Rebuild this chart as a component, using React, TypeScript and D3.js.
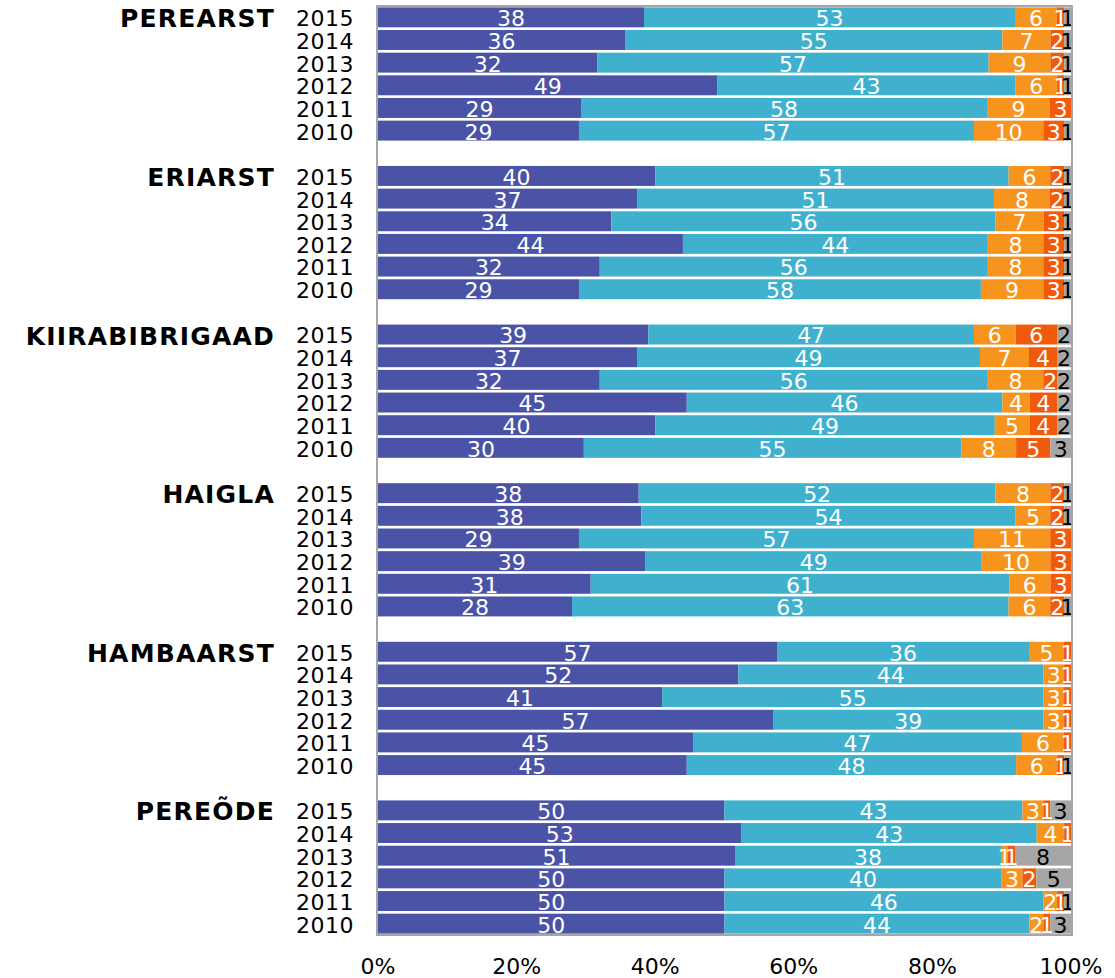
import * as d3 from 'd3';
import { useEffect } from "react";

const groups = ['PEREARST', 'ERIARST', 'KIIRABIBRIGAAD', 'HAIGLA', 'HAMBAARST', 'PEREÕDE'];
const years = ['2015', '2014', '2013', '2012', '2011', '2010'];
const seriesKeys = ['s1', 's2', 's3', 's4', 's5'];
const tickLabels = ['0%', '20%', '40%', '60%', '80%', '100%'];

// values per group, rows in order of years (2015 .. 2010), columns = seriesKeys
const perearst = [
    [38, 53, 6, 1, 1],
    [36, 55, 7, 2, 1],
    [32, 57, 9, 2, 1],
    [49, 43, 6, 1, 1],
    [29, 58, 9, 3, 0],
    [29, 57, 10, 3, 1],
];
const eriarst = [
    [40, 51, 6, 2, 1],
    [37, 51, 8, 2, 1],
    [34, 56, 7, 3, 1],
    [44, 44, 8, 3, 1],
    [32, 56, 8, 3, 1],
    [29, 58, 9, 3, 1],
];
const kiirabi = [
    [39, 47, 6, 6, 2],
    [37, 49, 7, 4, 2],
    [32, 56, 8, 2, 2],
    [45, 46, 4, 4, 2],
    [40, 49, 5, 4, 2],
    [30, 55, 8, 5, 3],
];
const haigla = [
    [38, 52, 8, 2, 1],
    [38, 54, 5, 2, 1],
    [29, 57, 11, 3, 0],
    [39, 49, 10, 3, 0],
    [31, 61, 6, 3, 0],
    [28, 63, 6, 2, 1],
];
const hambaarst = [
    [57, 36, 5, 1, 0],
    [52, 44, 3, 1, 0],
    [41, 55, 3, 1, 0],
    [57, 39, 3, 1, 0],
    [45, 47, 6, 1, 0],
    [45, 48, 6, 1, 1],
];
const pereode = [
    [50, 43, 3, 1, 3],
    [53, 43, 4, 1, 0],
    [51, 38, 1, 1, 8],
    [50, 40, 3, 2, 5],
    [50, 46, 2, 1, 1],
    [50, 44, 2, 1, 3],
];
const groupValues = [perearst, eriarst, kiirabi, haigla, hambaarst, pereode];

const colors = ['#4a53a5', '#3fb1cf', '#f7941e', '#f15a0a', '#a6a6a6'];
const labelColors = ['#ffffff', '#ffffff', '#ffffff', '#ffffff', '#000000'];

const WIDTH = 1115;
const HEIGHT = 978;
const MARGIN = { top: 6, right: 44, bottom: 43, left: 378 };
const FONT = 'Verdana, "DejaVu Sans", sans-serif';

type Row = { slot: number, group: number, year: string, [k: string]: number | string };

export default function App() {
    useEffect(() => {
        document.body.style.margin = '0';
    }, []);

    const rows: Row[] = [];
    groupValues.forEach((vals, g) => {
        vals.forEach((v, i) => {
            const r: Row = { slot: g * 7 + i, group: g, year: years[i] };
            seriesKeys.forEach((k, j) => { r[k] = v[j]; });
            rows.push(r);
        });
    });

    const slotCount = groups.length * 7 - 1;
    const y = d3.scaleBand<number>()
        .domain(d3.range(slotCount))
        .range([MARGIN.top, HEIGHT - MARGIN.bottom])
        .paddingInner(0.12)
        .paddingOuter(0.06);
    const x = d3.scaleLinear().domain([0, 1]).range([MARGIN.left, WIDTH - MARGIN.right]);

    const stack = d3.stack<Row>()
        .keys(seriesKeys)
        .value((d, k) => d[k] as number)
        .offset(d3.stackOffsetExpand);
    const layers = stack(rows);

    const plotBottom = HEIGHT - MARGIN.bottom;
    const mid = (slot: number) => (y(slot) ?? 0) + y.bandwidth() / 2;

    return (
        <svg width={WIDTH} height={HEIGHT} style={{ display: 'block', fontFamily: FONT }}>
            {layers.map((layer, li) => (
                <g key={li}>
                    {layer.map((d, ri) => (
                        <rect key={ri}
                            x={x(d[0])}
                            y={y(d.data.slot)}
                            width={Math.max(0, x(d[1]) - x(d[0]))}
                            height={y.bandwidth()}
                            fill={colors[li]} />
                    ))}
                </g>
            ))}
            {layers.map((layer, li) => (
                <g key={'l' + li}>
                    {layer.filter(d => (d.data[seriesKeys[li]] as number) > 0).map((d, ri) => (
                        <text key={ri}
                            x={(x(d[0]) + x(d[1])) / 2}
                            y={mid(d.data.slot) + 1}
                            dy="0.36em"
                            textAnchor="middle"
                            fontSize={22}
                            fill={labelColors[li]}>
                            {d.data[seriesKeys[li]]}
                        </text>
                    ))}
                </g>
            ))}
            <rect x={x(0) - 1} y={MARGIN.top} width={x(1) - x(0) + 2} height={plotBottom - MARGIN.top}
                fill="none" stroke="#a6a6a6" strokeWidth={2} />
            {rows.map((r, i) => (
                <text key={'y' + i} x={354} y={mid(r.slot) + 1} dy="0.36em"
                    textAnchor="end" fontSize={22} letterSpacing={0.5} fill="#000">{r.year}</text>
            ))}
            {groups.map((g, i) => (
                <text key={'g' + i} x={275} y={mid(i * 7) + 1} dy="0.36em"
                    textAnchor="end" fontSize={25} letterSpacing={1.2} fontWeight="bold" fill="#000">{g}</text>
            ))}
            {tickLabels.map((t, i) => (
                <text key={'t' + i} x={x(i / (tickLabels.length - 1))} y={966} dy="0.36em"
                    textAnchor="middle" fontSize={22} fill="#000">{t}</text>
            ))}
        </svg>
    );
}
